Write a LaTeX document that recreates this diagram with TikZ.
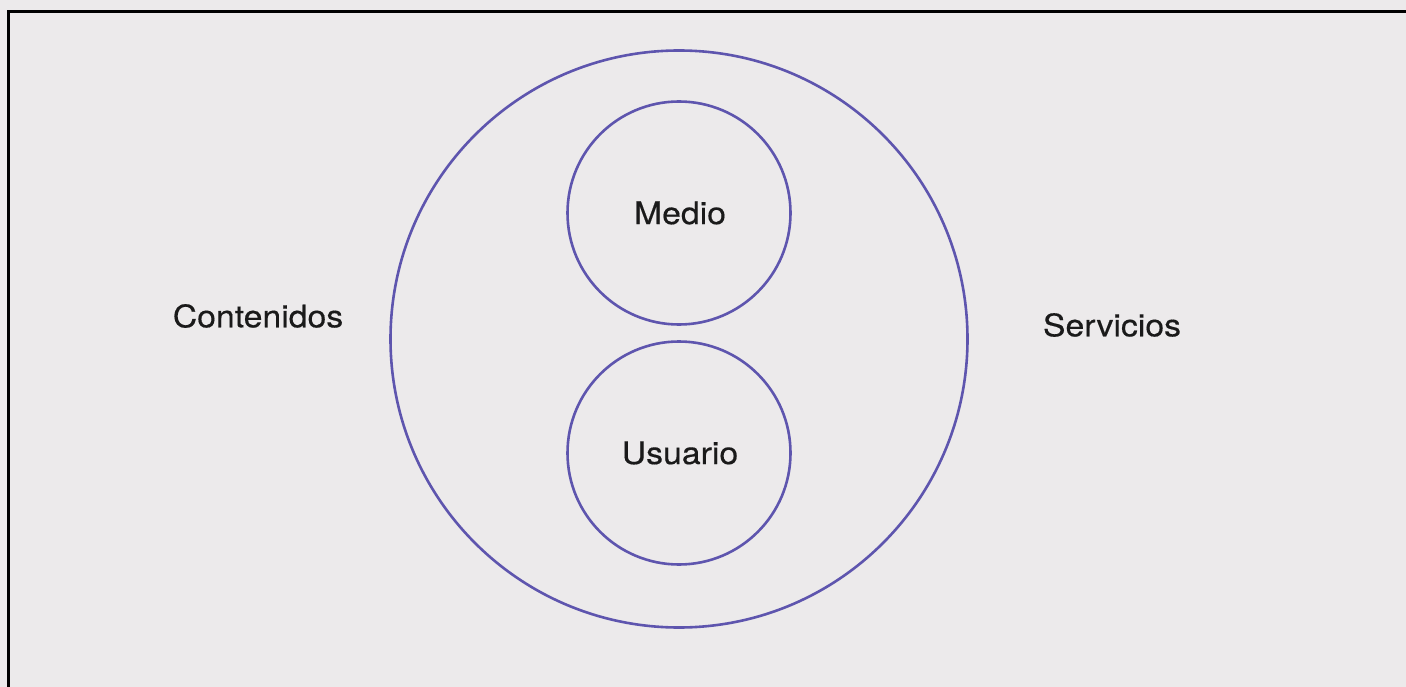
\documentclass[tikz,border=0pt]{standalone}
\usepackage{fontspec}
\setmainfont{TeX Gyre Heros}[FakeStretch=1.09,FakeBold=0.4]
\definecolor{bg}{HTML}{ECEAEB}
\definecolor{ring}{HTML}{5E55AE}
\definecolor{ink}{HTML}{1A1A1A}
\begin{document}
\begin{tikzpicture}[x=1pt,y=-1pt,
  ringstyle/.style={circle,draw=ring,line width=2.6pt,inner sep=0pt},
  lbl/.style={text=ink,font=\fontsize{31}{36}\selectfont,inner sep=0pt}]
\useasboundingbox (0,0) rectangle (1406,687);
\fill[bg] (0,0) rectangle (1406,687);
\coordinate (tl) at (8.5,11.5);
\coordinate (tr) at (1406,11.5);
\coordinate (bl) at (8.5,687);
\draw[line width=3pt,black] (bl) -- (tl) -- (tr);
\node[ringstyle,minimum size=577pt] (outer) at (679,339) {};
\node[ringstyle,minimum size=223pt] (medio) at (679,213) {};
\node[ringstyle,minimum size=223pt] (usuario) at (679,453) {};
\node[lbl] (tm) at (680,213) {Medio};
\node[lbl] (tu) at (680,453) {Usuario};
\node[lbl] (tc) at (258,316) {Contenidos};
\node[lbl] (ts) at (1112,325) {Servicios};
\end{tikzpicture}
\end{document}
